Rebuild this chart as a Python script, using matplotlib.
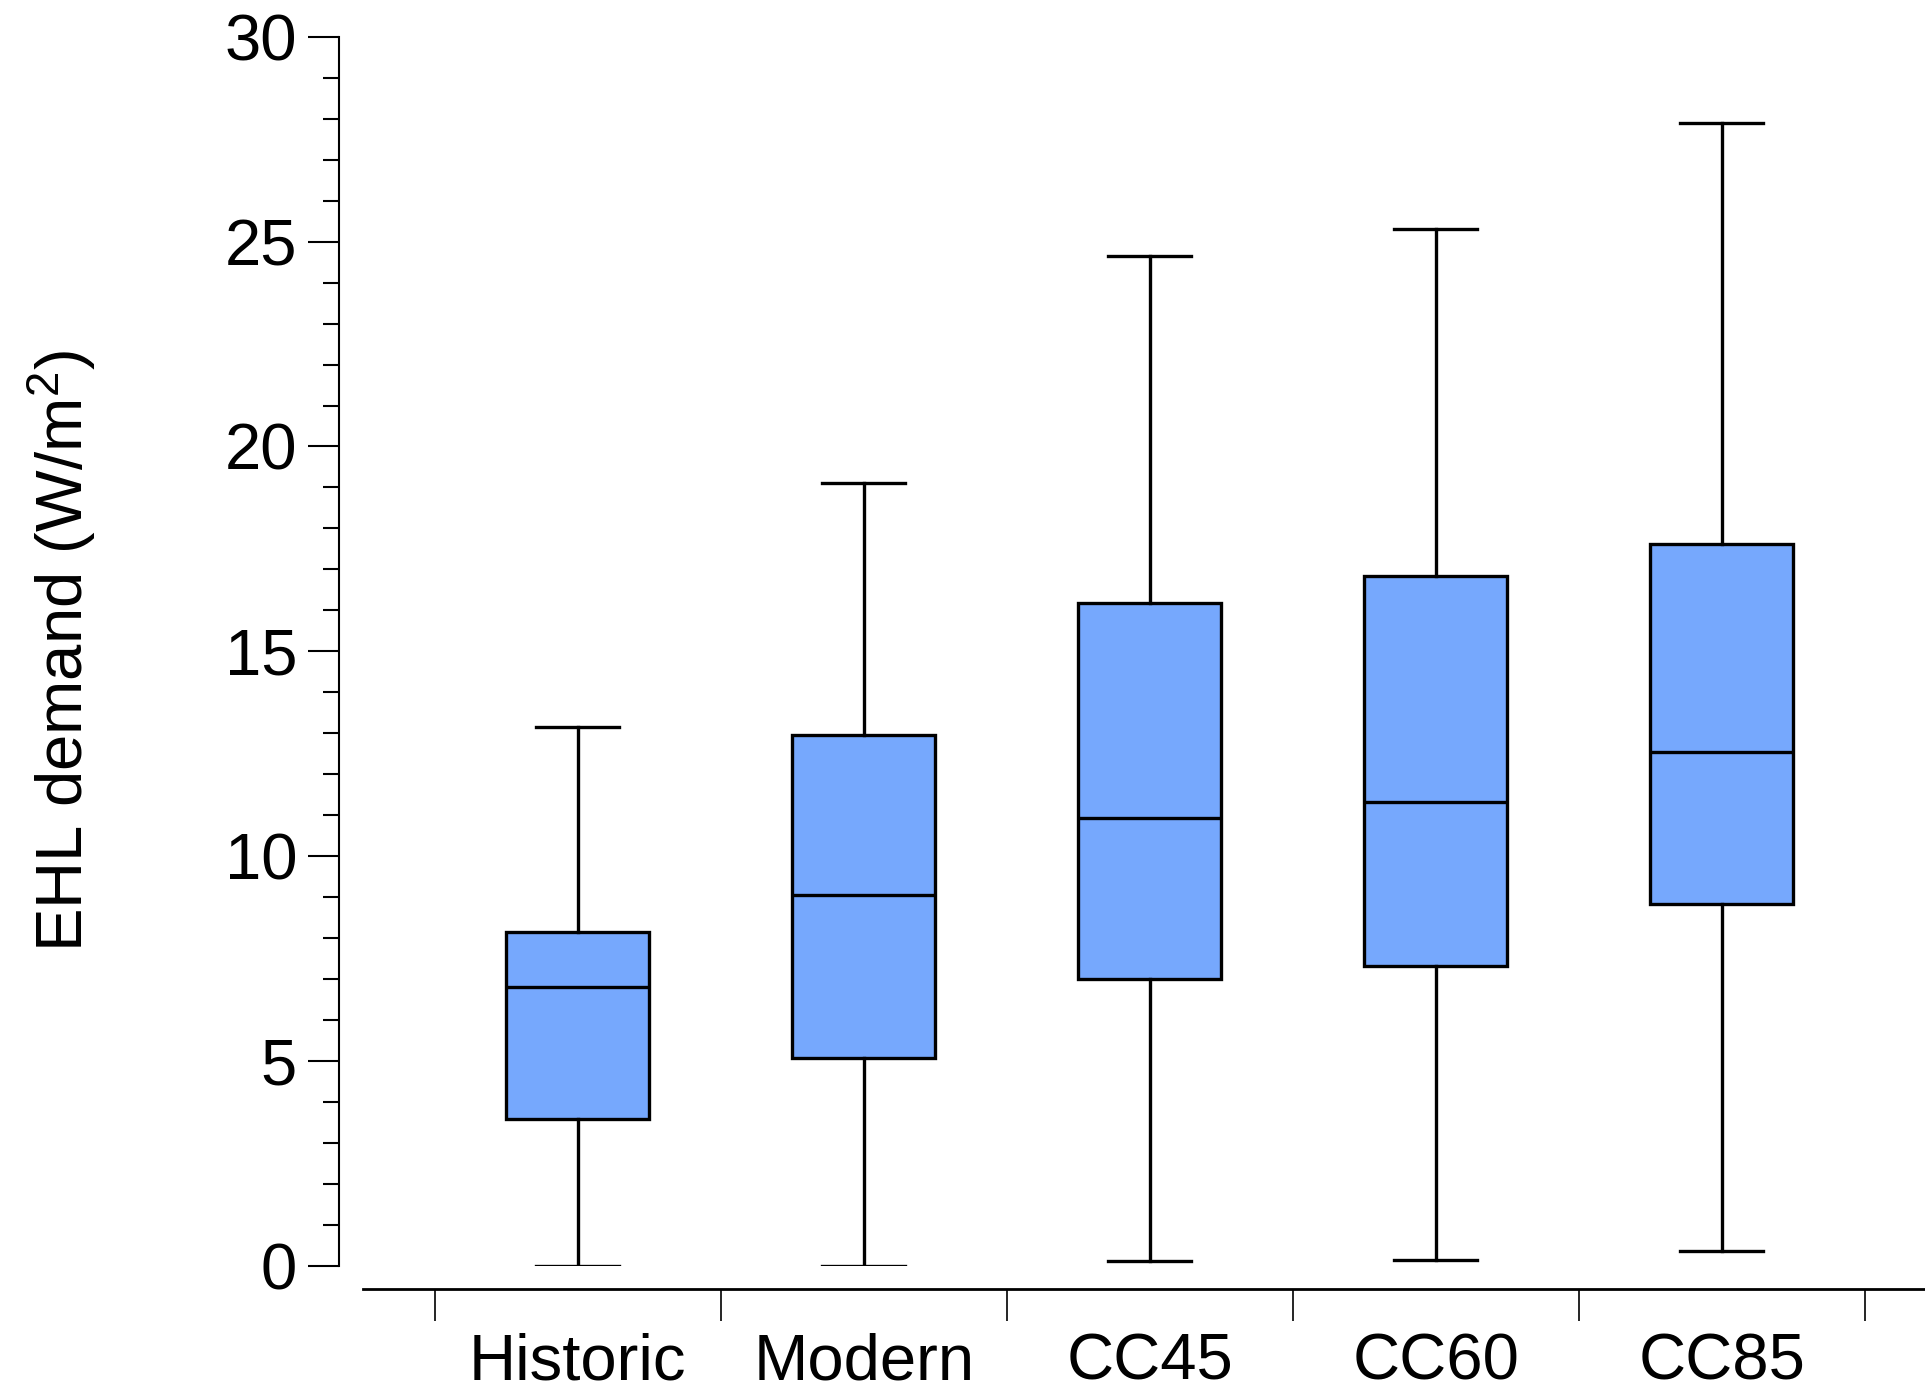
import matplotlib

matplotlib.use("Agg")
import matplotlib.pyplot as plt
from matplotlib.ticker import MultipleLocator, FixedLocator, NullFormatter

plt.rcParams.update({
    "font.family": ["Liberation Sans", "DejaVu Sans"],
    "mathtext.fontset": "custom",
    "mathtext.rm": "Liberation Sans",
    "mathtext.default": "regular",
})

scenarios = ["Historic", "Modern", "CC45", "CC60", "CC85"]
whis_lo = [0.0, 0.0, 0.12, 0.15, 0.36]
q1 = [3.57, 5.06, 7.01, 7.31, 8.84]
median = [6.80, 9.05, 10.94, 11.33, 12.53]
q3 = [8.15, 12.95, 16.18, 16.84, 17.62]
whis_hi = [13.16, 19.12, 24.66, 25.32, 27.90]

stats = [
    dict(label=s, whislo=lo, q1=a, med=m, q3=b, whishi=hi, fliers=[])
    for s, lo, a, m, b, hi in zip(scenarios, whis_lo, q1, median, q3, whis_hi)
]

fig = plt.figure(figsize=(19.25, 13.9), dpi=100)
ax = fig.add_axes([0.176, 0.0894, 0.824, 0.8841])

lw = 2.4
ax.bxp(
    stats,
    positions=range(len(scenarios)),
    widths=0.5,
    capwidths=0.29,
    patch_artist=True,
    showfliers=False,
    boxprops=dict(facecolor="#76a8fd", edgecolor="black", linewidth=lw),
    medianprops=dict(color="black", linewidth=lw),
    whiskerprops=dict(color="black", linewidth=lw),
    capprops=dict(color="black", linewidth=lw),
)

ax.set_xlim(-0.835, 4.71)
ax.set_ylim(0, 30)

for side in ("top", "right"):
    ax.spines[side].set_visible(False)
ax.spines["left"].set_bounds(0, 30)
ax.spines["left"].set_linewidth(1.5)
ax.spines["bottom"].set_position(("outward", 17))
ax.spines["bottom"].set_bounds(-0.75, 4.71)
ax.spines["bottom"].set_linewidth(2.0)

# y axis: majors every 5, minors every 1
ax.yaxis.set_major_locator(MultipleLocator(5))
ax.yaxis.set_minor_locator(MultipleLocator(1))
ax.tick_params(axis="y", which="major", length=22, width=1.5, labelsize=47, pad=8)
ax.tick_params(axis="y", which="minor", length=11.5, width=1.5)

# x axis: ticks on category boundaries, labels at box centres
ax.xaxis.set_major_locator(FixedLocator([i - 0.5 for i in range(len(scenarios) + 1)]))
ax.xaxis.set_major_formatter(NullFormatter())
ax.xaxis.set_minor_locator(FixedLocator(range(len(scenarios))))
ax.set_xticks(range(len(scenarios)), scenarios, minor=True)
ax.tick_params(axis="x", which="major", length=23, width=1.2)
ax.tick_params(axis="x", which="minor", length=0, labelsize=47, pad=31)

ax.set_ylabel("EHL demand (W/m$^{2}$)", fontsize=47)
ax.yaxis.set_label_coords(-0.152, 0.5)

fig.savefig("out.png", dpi=100)
